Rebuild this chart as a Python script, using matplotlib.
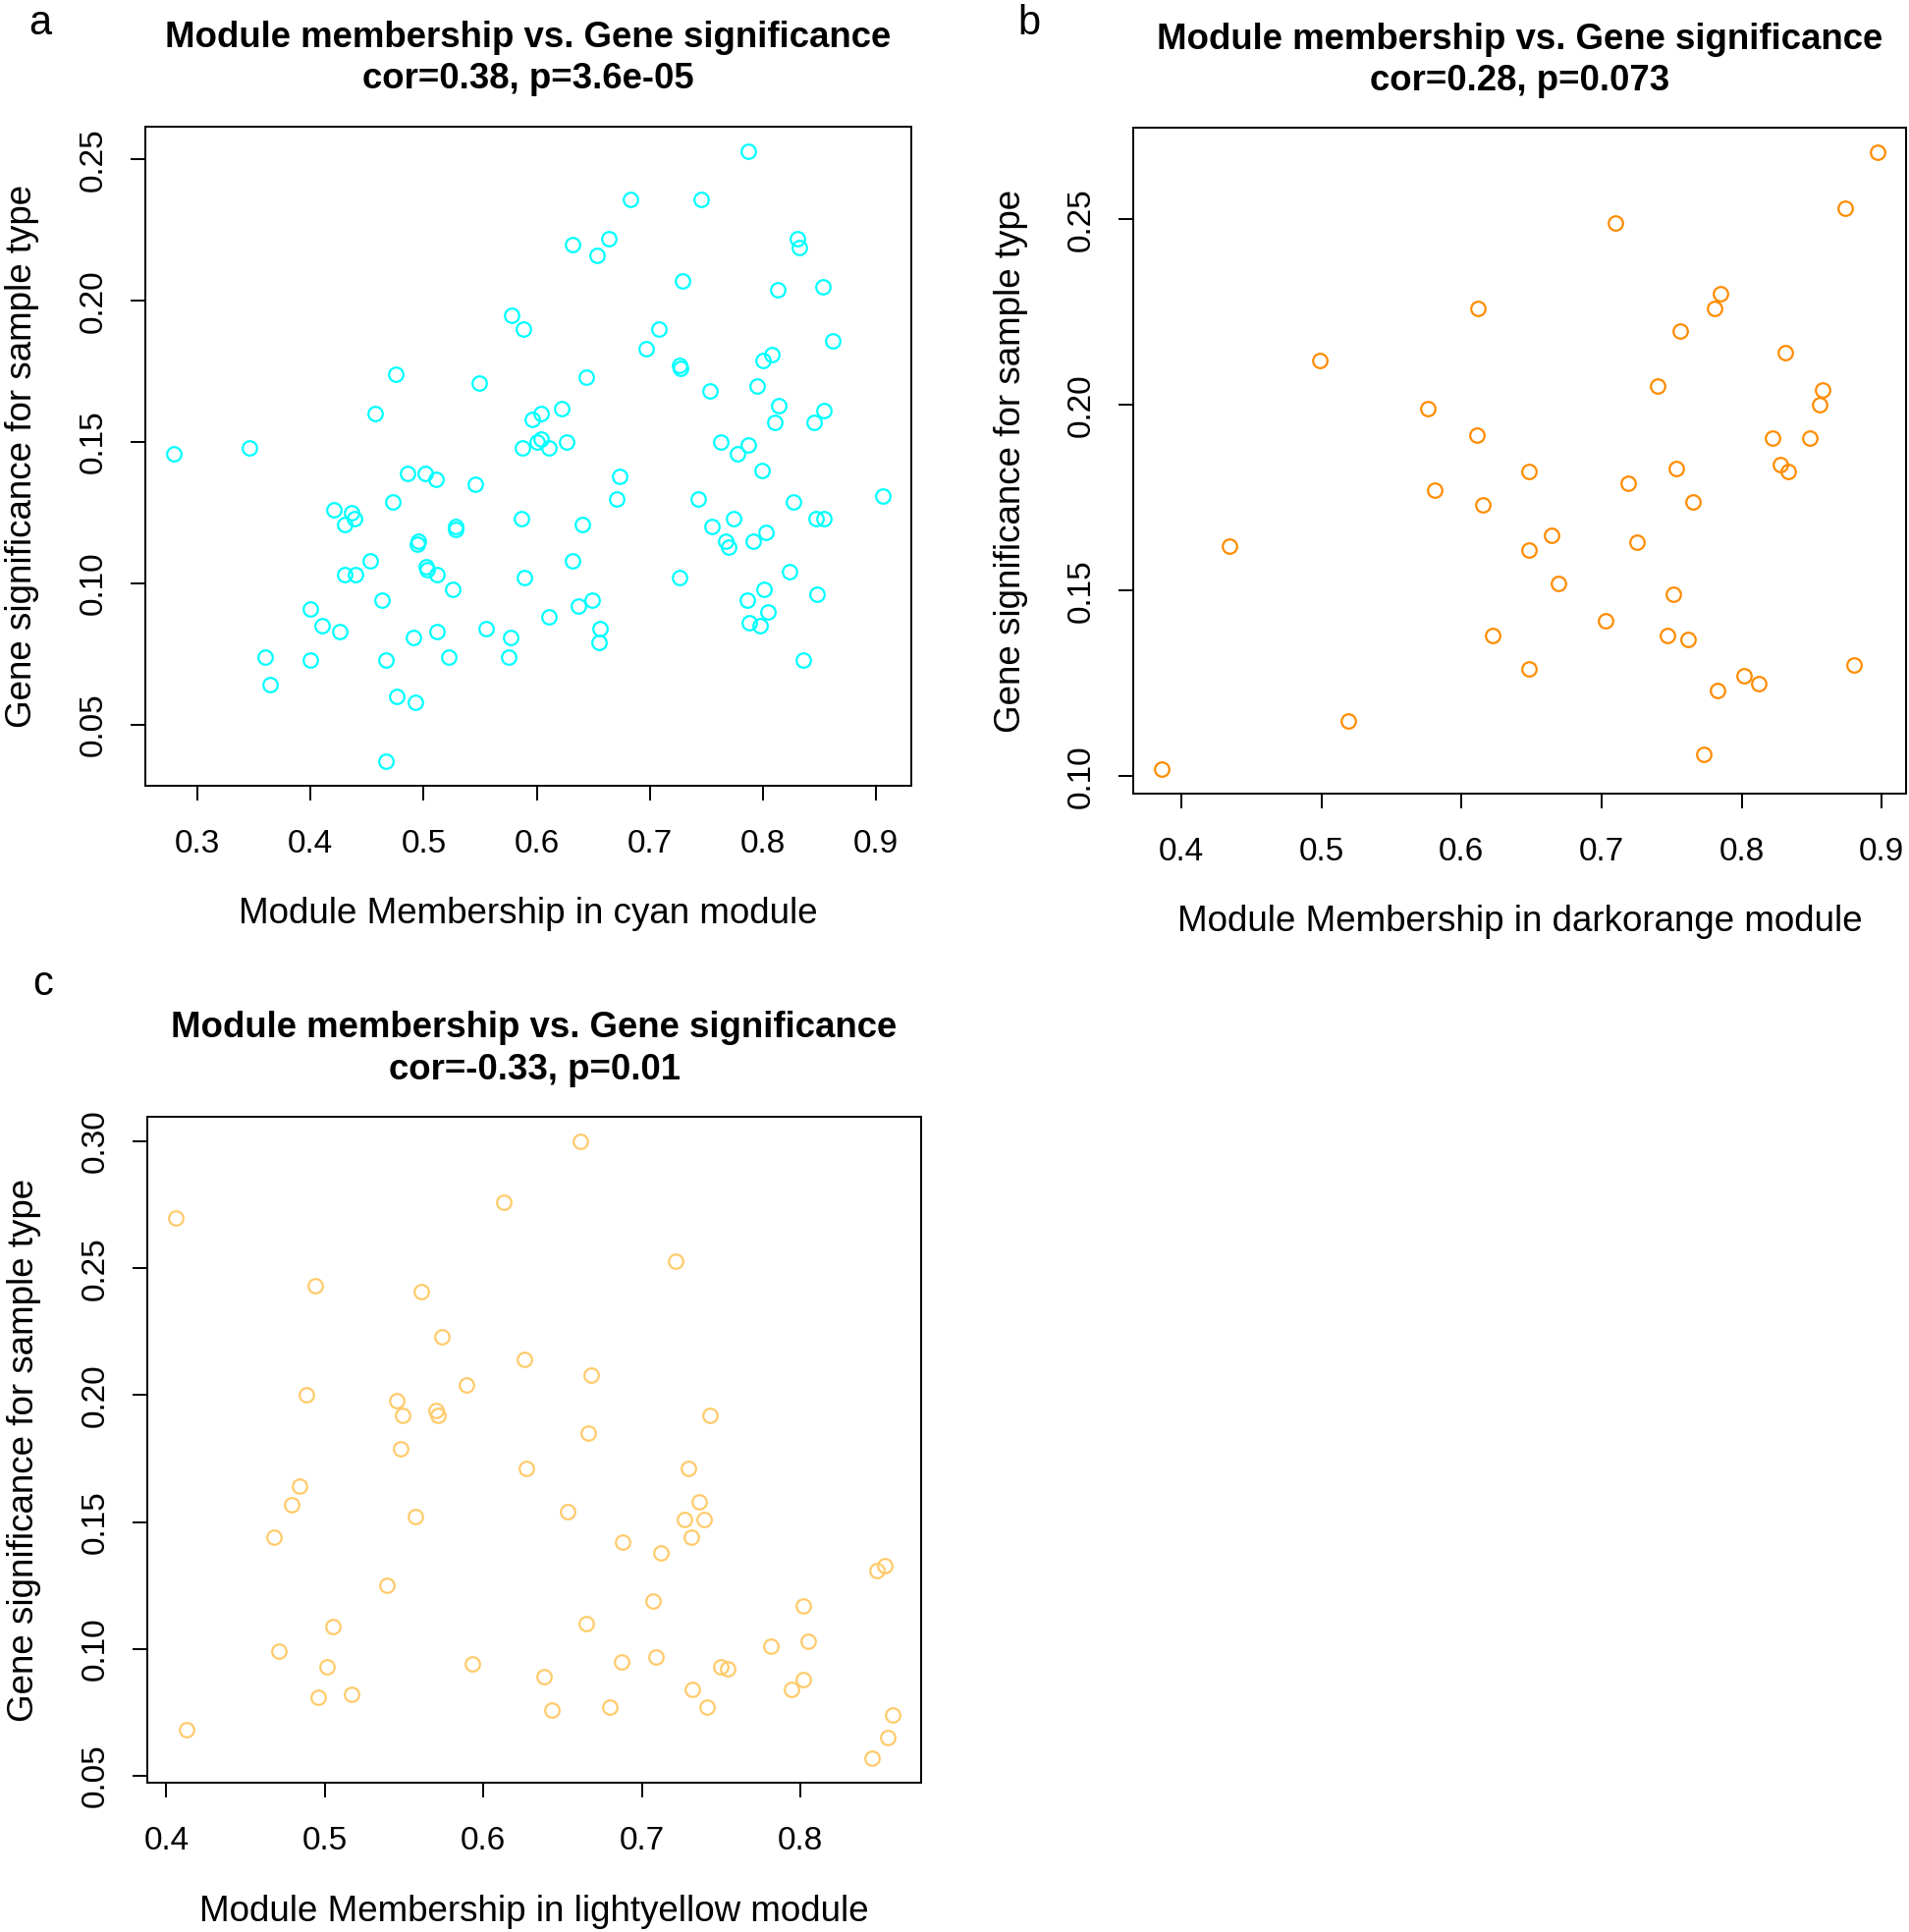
import numpy as np
import matplotlib
matplotlib.use("Agg")
import matplotlib.pyplot as plt

plt.rcParams['font.family'] = ['Liberation Sans', 'DejaVu Sans']

# panel a: cyan module
a_mm = [0.578, 0.588, 0.475, 0.549, 0.457, 0.596, 0.279, 0.346, 0.587,
        0.787, 0.683, 0.745, 0.632, 0.664, 0.653, 0.830, 0.832, 0.729, 0.813, 0.853,
        0.708, 0.697, 0.862, 0.808, 0.800, 0.726, 0.727, 0.644, 0.753, 0.795,
        0.814, 0.810, 0.854, 0.845, 0.604, 0.622, 0.600, 0.604, 0.611, 0.626,
        0.763, 0.787, 0.777,
        0.486, 0.501, 0.511, 0.546, 0.473, 0.421, 0.436, 0.439, 0.430, 0.528,
        0.528, 0.586, 0.495, 0.494, 0.453, 0.502, 0.503, 0.512, 0.430, 0.440,
        0.589, 0.526, 0.463, 0.400, 0.410, 0.426, 0.491, 0.512, 0.555, 0.577,
        0.360, 0.400, 0.467, 0.522, 0.575, 0.364, 0.476, 0.493, 0.467,
        0.799, 0.673, 0.671, 0.743, 0.827, 0.906, 0.640, 0.774, 0.755, 0.847,
        0.854, 0.803, 0.791, 0.767, 0.770, 0.632, 0.726, 0.823, 0.801, 0.786,
        0.848, 0.804, 0.788, 0.797, 0.637, 0.649, 0.611, 0.656, 0.655, 0.836]
a_gs = [0.195, 0.190, 0.174, 0.171, 0.160, 0.158, 0.146, 0.148, 0.148,
        0.253, 0.236, 0.236, 0.220, 0.222, 0.216, 0.222, 0.219, 0.207, 0.204, 0.205,
        0.190, 0.183, 0.186, 0.181, 0.179, 0.177, 0.176, 0.173, 0.168, 0.170,
        0.163, 0.157, 0.161, 0.157, 0.160, 0.162, 0.150, 0.151, 0.148, 0.150,
        0.150, 0.149, 0.146,
        0.139, 0.139, 0.137, 0.135, 0.129, 0.126, 0.125, 0.123, 0.121, 0.120,
        0.119, 0.123, 0.115, 0.114, 0.108, 0.106, 0.105, 0.103, 0.103, 0.103,
        0.102, 0.098, 0.094, 0.091, 0.085, 0.083, 0.081, 0.083, 0.084, 0.081,
        0.074, 0.073, 0.073, 0.074, 0.074, 0.064, 0.060, 0.058, 0.037,
        0.140, 0.138, 0.130, 0.130, 0.129, 0.131, 0.121, 0.123, 0.120, 0.123,
        0.123, 0.118, 0.115, 0.115, 0.113, 0.108, 0.102, 0.104, 0.098, 0.094,
        0.096, 0.090, 0.086, 0.085, 0.092, 0.094, 0.088, 0.084, 0.079, 0.073]

# panel b: darkorange module
b_mm = [0.612, 0.499, 0.576, 0.611,
        0.897, 0.874, 0.710, 0.785, 0.781, 0.756, 0.831, 0.740, 0.858, 0.856,
        0.822, 0.849, 0.828, 0.833,
        0.581, 0.615, 0.434, 0.622, 0.519, 0.386, 0.648, 0.648, 0.648,
        0.753, 0.719, 0.765, 0.664, 0.725, 0.669, 0.751, 0.703, 0.747, 0.762,
        0.880, 0.802, 0.812, 0.783, 0.773]
b_gs = [0.226, 0.212, 0.199, 0.192,
        0.268, 0.253, 0.249, 0.230, 0.226, 0.220, 0.214, 0.205, 0.204, 0.200,
        0.191, 0.191, 0.184, 0.182,
        0.177, 0.173, 0.162, 0.138, 0.115, 0.102, 0.182, 0.161, 0.129,
        0.183, 0.179, 0.174, 0.165, 0.163, 0.152, 0.149, 0.142, 0.138, 0.137,
        0.130, 0.127, 0.125, 0.123, 0.106]

# panel c: lightyellow module
c_mm = [0.406, 0.613, 0.494, 0.561, 0.574, 0.626, 0.589, 0.488, 0.545, 0.549,
        0.570, 0.571, 0.548,
        0.661, 0.721, 0.668, 0.743, 0.666,
        0.627, 0.484, 0.479, 0.557, 0.468, 0.539, 0.505, 0.471, 0.501, 0.593,
        0.496, 0.517, 0.413,
        0.729, 0.653, 0.736, 0.727, 0.739, 0.731, 0.688, 0.712, 0.853, 0.848,
        0.707, 0.802, 0.665, 0.805, 0.781, 0.687, 0.709, 0.638, 0.750, 0.754,
        0.802, 0.794, 0.732, 0.643, 0.680, 0.741, 0.858, 0.855, 0.845]
c_gs = [0.270, 0.276, 0.243, 0.241, 0.223, 0.214, 0.204, 0.200, 0.198, 0.192,
        0.194, 0.192, 0.179,
        0.300, 0.253, 0.208, 0.192, 0.185,
        0.171, 0.164, 0.157, 0.152, 0.144, 0.125, 0.109, 0.099, 0.093, 0.094,
        0.081, 0.082, 0.068,
        0.171, 0.154, 0.158, 0.151, 0.151, 0.144, 0.142, 0.138, 0.133, 0.131,
        0.119, 0.117, 0.110, 0.103, 0.101, 0.095, 0.097, 0.089, 0.093, 0.092,
        0.088, 0.084, 0.084, 0.076, 0.077, 0.077, 0.074, 0.065, 0.057]

W, H = 1944, 1967
fig = plt.figure(figsize=(W / 100, H / 100), dpi=100)


def px_axes(l, r, t, b):
    return fig.add_axes([l / W, 1 - b / H, (r - l) / W, (b - t) / H])


def fig_text(x, y, s, **kw):
    fig.text(x / W, 1 - y / H, s, ha='center', va='center', **kw)


panels = [
    # box(l, r, t, b), x, y, color, xticks, yticks, module, corr text, letter pos
    ((148, 928, 129, 800), a_mm, a_gs, '#00FFFF',
     [0.3, 0.4, 0.5, 0.6, 0.7, 0.8, 0.9], [0.05, 0.10, 0.15, 0.20, 0.25],
     'cyan', 'cor=0.38, p=3.6e-05', 'a', (41, 24)),
    ((1154, 1941, 130, 808), b_mm, b_gs, '#FF8C00',
     [0.4, 0.5, 0.6, 0.7, 0.8, 0.9], [0.10, 0.15, 0.20, 0.25],
     'darkorange', 'cor=0.28, p=0.073', 'b', (1048, 24)),
    ((150, 938, 1137, 1815), c_mm, c_gs, '#FFCB6B',
     [0.4, 0.5, 0.6, 0.7, 0.8], [0.05, 0.10, 0.15, 0.20, 0.25, 0.30],
     'lightyellow', 'cor=-0.33, p=0.01', 'c', (44, 1002)),
]

for box, xs, ys, col, xt, yt, mod, cor, letter, lpos in panels:
    l, r, t, b = box
    ax = px_axes(l, r, t, b)
    ax.plot(xs, ys, 'o', mfc='none', mec=col, ms=10.5, mew=1.6, ls='none')
    ax.margins(0.04)
    ax.set_xticks(xt)
    ax.set_xticklabels(['%g' % v for v in xt])
    ax.set_yticks(yt)
    ax.set_yticklabels(['%.2f' % v for v in yt], rotation=90, va='center')
    ax.tick_params(direction='out', length=11, width=1.4, labelsize=24,
                   top=False, right=False)
    ax.tick_params(axis='x', pad=21)
    ax.tick_params(axis='y', pad=16)
    for sp in ax.spines.values():
        sp.set_linewidth(1.4)

    cx = (l + r) / 2
    fig_text(cx, t - 90, 'Module membership vs. Gene significance',
             fontsize=26.4, fontweight='bold')
    fig_text(cx, t - 48, cor, fontsize=26.4, fontweight='bold')
    fig_text(cx, b + 131, 'Module Membership in %s module' % mod, fontsize=26.5)
    fig_text(l - 125, (t + b) / 2, 'Gene significance for sample type',
             fontsize=26.5, rotation=90)
    fig_text(lpos[0], lpos[1], letter, fontsize=30)

fig.savefig('out.png', dpi=100, facecolor='white')
